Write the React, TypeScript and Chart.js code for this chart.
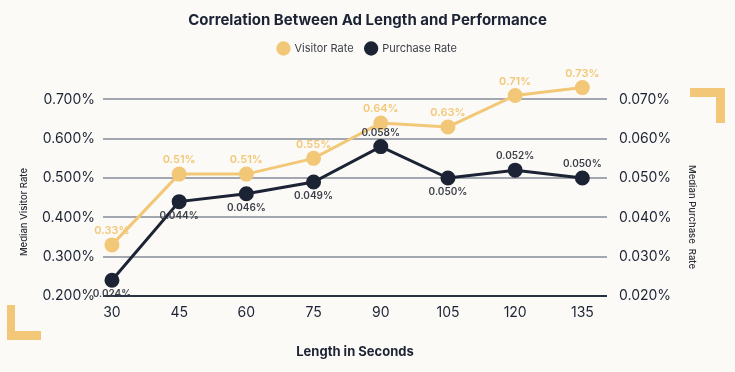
import React, { useEffect, useRef } from "react";
import { Chart, registerables } from "chart.js";

Chart.register(...registerables);

const lengths = [30, 45, 60, 75, 90, 105, 120, 135];
const visitorRate = [0.33, 0.51, 0.51, 0.55, 0.64, 0.63, 0.71, 0.73];
const purchaseRate = [0.024, 0.044, 0.046, 0.049, 0.058, 0.05, 0.052, 0.05];
const visitorTicks = [0.2, 0.3, 0.4, 0.5, 0.6, 0.7];
const purchaseTicks = [0.02, 0.03, 0.04, 0.05, 0.06, 0.07];
// label placement for purchase-rate value labels (style only)
const purchaseLabelAbove = [false, false, false, false, true, false, true, true];

const ORANGE = "#f2c878";
const NAVY = "#1b2334";
const BG = "#fcfaf6";
const FONT = "Inter, 'Noto Sans', sans-serif";

const decorPlugin = {
  id: "decor",
  beforeDraw(chart: any) {
    const ctx = chart.ctx;
    ctx.save();
    ctx.fillStyle = BG;
    ctx.fillRect(0, 0, chart.width, chart.height);
    ctx.fillStyle = ORANGE;
    // top-right bracket
    ctx.fillRect(690, 88, 35, 9);
    ctx.fillRect(716, 88, 9, 35);
    // bottom-left bracket
    ctx.fillRect(7, 305, 8, 35);
    ctx.fillRect(7, 331, 34, 9);
    ctx.restore();
  },
  afterDraw(chart: any) {
    const ctx = chart.ctx;
    ctx.save();
    ctx.fillStyle = "#2b2f38";
    ctx.font = `500 9.5px ${FONT}`;
    ctx.textAlign = "center";
    ctx.textBaseline = "middle";
    ctx.translate(24, 212);
    ctx.rotate(-Math.PI / 2);
    ctx.fillText("Median Visitor Rate", 0, 0);
    ctx.restore();
    ctx.save();
    ctx.fillStyle = "#2b2f38";
    ctx.font = `500 9.5px ${FONT}`;
    ctx.textAlign = "center";
    ctx.textBaseline = "middle";
    ctx.translate(692, 217);
    ctx.rotate(Math.PI / 2);
    ctx.fillText("Median Purchase  Rate", 0, 0);
    ctx.restore();
  },
};

const valueLabelPlugin = {
  id: "valueLabels",
  afterDatasetsDraw(chart: any) {
    const ctx = chart.ctx;
    ctx.save();
    ctx.textAlign = "center";
    ctx.textBaseline = "middle";
    const m0 = chart.getDatasetMeta(0);
    ctx.fillStyle = ORANGE;
    ctx.font = `600 11px ${FONT}`;
    m0.data.forEach((pt: any, i: number) => {
      ctx.fillText(visitorRate[i].toFixed(2) + "%", pt.x, pt.y - 14);
    });
    const m1 = chart.getDatasetMeta(1);
    ctx.fillStyle = "#3a3f49";
    ctx.font = `600 10px ${FONT}`;
    m1.data.forEach((pt: any, i: number) => {
      const dy = purchaseLabelAbove[i] ? -14 : 14;
      ctx.fillText(purchaseRate[i].toFixed(3) + "%", pt.x, pt.y + dy);
    });
    ctx.restore();
  },
};

export default function App() {
  const ref = useRef<HTMLCanvasElement | null>(null);
  useEffect(() => {
    if (!ref.current) return;
    const chart = new Chart(ref.current, {
      type: "line",
      data: {
        datasets: [
          {
            label: "Visitor Rate",
            data: lengths.map((x, i) => ({ x, y: visitorRate[i] })),
            borderColor: ORANGE,
            backgroundColor: ORANGE,
            pointBackgroundColor: ORANGE,
            pointBorderColor: ORANGE,
            borderWidth: 3,
            pointRadius: 6,
            yAxisID: "y",
          },
          {
            label: "Purchase Rate",
            data: lengths.map((x, i) => ({ x, y: purchaseRate[i] })),
            borderColor: NAVY,
            backgroundColor: NAVY,
            pointBackgroundColor: NAVY,
            pointBorderColor: NAVY,
            borderWidth: 3,
            pointRadius: 6,
            yAxisID: "y1",
          },
        ],
      },
      options: {
        responsive: false,
        animation: false,
        layout: { padding: { left: 0, right: 0, top: 0, bottom: 0 } },
        plugins: {
          title: {
            display: true,
            text: "Correlation Between Ad Length and Performance",
            color: NAVY,
            font: { family: FONT, size: 15, weight: "bold" },
            padding: { top: 11, bottom: 2 },
          },
          legend: {
            display: true,
            labels: {
              usePointStyle: true,
              pointStyle: "circle",
              boxWidth: 11,
              boxHeight: 8,
              padding: 12,
              color: "#3b3f47",
              font: { family: FONT, size: 11 },
            },
          },
          tooltip: { enabled: false },
        },
        scales: {
          x: {
            type: "linear",
            min: 28,
            max: 140.5,
            afterBuildTicks: (s: any) => {
              s.ticks = lengths.map((v) => ({ value: v }));
            },
            afterFit: (s: any) => {
              s.height = 372 - 296;
            },
            grid: { display: false, drawTicks: false },
            border: { display: false },
            ticks: {
              color: NAVY,
              padding: 8,
              font: { family: FONT, size: 14 },
              maxRotation: 0,
              autoSkip: false,
            },
            title: {
              display: true,
              text: "Length in Seconds",
              color: NAVY,
              font: { family: FONT, size: 13, weight: "bold" },
              padding: { top: 0, bottom: 12 },
            },
          },
          y: {
            type: "linear",
            position: "left",
            min: 0.2,
            max: 0.79,
            afterBuildTicks: (s: any) => {
              s.ticks = visitorTicks.map((v) => ({ value: v }));
            },
            afterFit: (s: any) => {
              s.width = 103;
            },
            grid: {
              drawTicks: false,
              lineWidth: 2,
              color: (c: any) => (c.tick && c.tick.value === 0.2 ? "#2a3142" : "#a3a8b0"),
            },
            border: { display: false },
            ticks: {
              color: NAVY,
              padding: 8,
              font: { family: FONT, size: 14 },
              callback: (v: any) => Number(v).toFixed(3) + "%",
            },
          },
          y1: {
            type: "linear",
            position: "right",
            min: 0.02,
            max: 0.079,
            afterBuildTicks: (s: any) => {
              s.ticks = purchaseTicks.map((v) => ({ value: v }));
            },
            afterFit: (s: any) => {
              s.width = 735 - 607;
            },
            grid: { display: false, drawTicks: false },
            border: { display: false },
            ticks: {
              color: NAVY,
              padding: 12,
              font: { family: FONT, size: 14 },
              callback: (v: any) => Number(v).toFixed(3) + "%",
            },
          },
        },
      },
      plugins: [decorPlugin, valueLabelPlugin],
    } as any);
    return () => chart.destroy();
  }, []);
  return (
    <div style={{ position: "fixed", left: 0, top: 0, width: 735, height: 372, background: BG }}>
      <canvas ref={ref} width={735} height={372} style={{ display: "block" }} />
    </div>
  );
}
